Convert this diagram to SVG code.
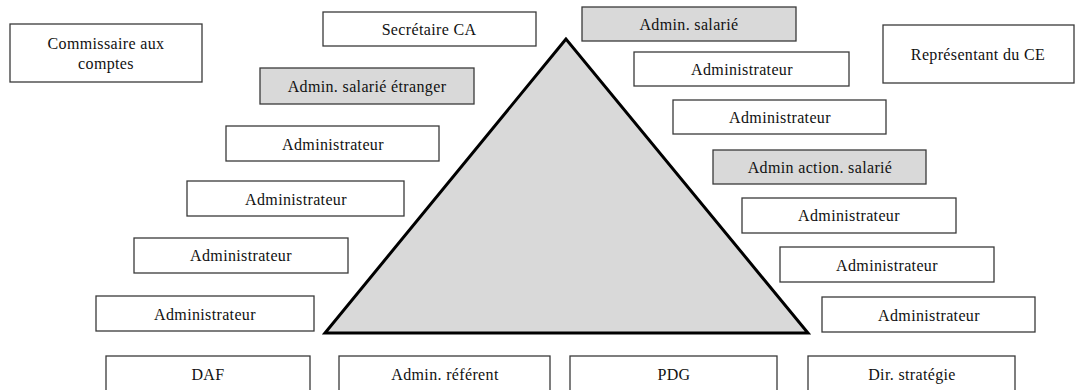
<svg xmlns="http://www.w3.org/2000/svg" width="1079" height="390" viewBox="0 0 1079 390">
<style>
.b{fill:#fff;stroke:#3a3a3a;stroke-width:1.3}
.g{fill:#d9d9d9;stroke:#3a3a3a;stroke-width:1.3}
text{font-family:'Liberation Serif','Times New Roman',serif;font-size:16px;letter-spacing:0.35px;fill:#111;text-anchor:middle}
</style>
<rect width="1079" height="390" fill="#fff"/>
<g id="pyramid"><polygon points="566,39 325,333 808,333" fill="#d9d9d9" stroke="#000" stroke-width="3" stroke-linejoin="miter"/></g>
<g id="commissaire"><rect class="b" x="10" y="24" width="192" height="58"/><text x="106" y="49">Commissaire aux</text><text x="106" y="69">comptes</text></g>
<g id="secretaire"><rect class="b" x="323" y="12" width="213" height="34"/><text x="429" y="35">Secrétaire CA</text></g>
<g id="admin-salarie"><rect class="g" x="582" y="7" width="214" height="34"/><text x="689" y="30">Admin. salarié</text></g>
<g id="representant"><rect class="b" x="883" y="25" width="191" height="58"/><text x="978" y="60">Représentant du CE</text></g>
<g id="admin-etranger"><rect class="g" x="260" y="68" width="214" height="36"/><text x="367" y="92">Admin. salarié étranger</text></g>
<g id="adm-r1"><rect class="b" x="634" y="52" width="215" height="34"/><text x="742" y="75">Administrateur</text></g>
<g id="adm-r2"><rect class="b" x="673" y="100" width="213" height="34"/><text x="780" y="123">Administrateur</text></g>
<g id="admin-action"><rect class="g" x="713" y="150" width="213" height="34"/><text x="820" y="173">Admin action. salarié</text></g>
<g id="adm-r3"><rect class="b" x="742" y="198" width="214" height="35"/><text x="849" y="221">Administrateur</text></g>
<g id="adm-r4"><rect class="b" x="780" y="247" width="214" height="35"/><text x="887" y="271">Administrateur</text></g>
<g id="adm-r5"><rect class="b" x="822" y="297" width="213" height="35"/><text x="929" y="321">Administrateur</text></g>
<g id="adm-l1"><rect class="b" x="226" y="126" width="213" height="35"/><text x="333" y="150">Administrateur</text></g>
<g id="adm-l2"><rect class="b" x="187" y="181" width="217" height="35"/><text x="296" y="205">Administrateur</text></g>
<g id="adm-l3"><rect class="b" x="134" y="238" width="214" height="35"/><text x="241" y="261">Administrateur</text></g>
<g id="adm-l4"><rect class="b" x="96" y="296" width="218" height="35"/><text x="205" y="320">Administrateur</text></g>
<g id="daf"><rect class="b" x="106" y="356" width="204" height="40"/><text x="208" y="380">DAF</text></g>
<g id="admin-referent"><rect class="b" x="339" y="356" width="211" height="40"/><text x="445" y="380">Admin. référent</text></g>
<g id="pdg"><rect class="b" x="570" y="356" width="207" height="40"/><text x="674" y="380">PDG</text></g>
<g id="dir-strategie"><rect class="b" x="808" y="356" width="207" height="40"/><text x="912" y="380">Dir. stratégie</text></g>
<g id="connectors"/>
</svg>
